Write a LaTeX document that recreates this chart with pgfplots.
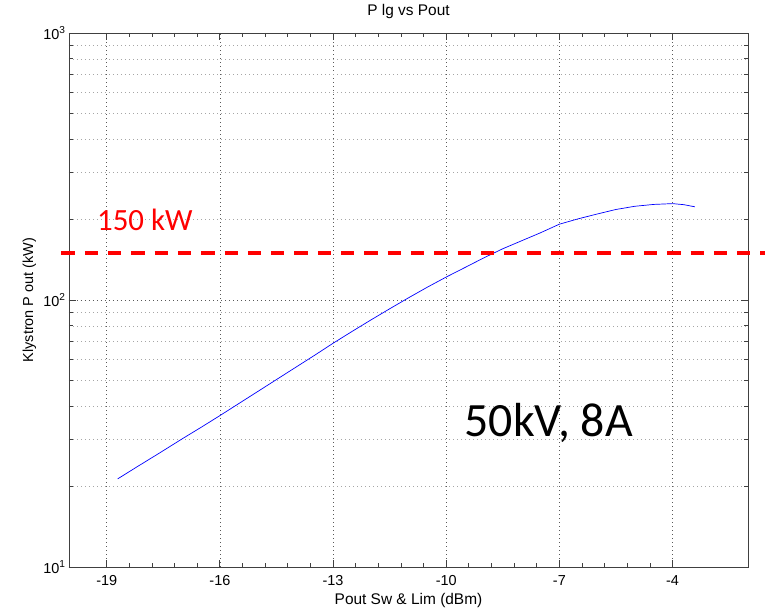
\documentclass[border=0pt]{standalone}
\usepackage{pgfplots}
\pgfplotsset{compat=1.18}
\usepackage{fontspec}
\setmainfont{Liberation Sans}
\newfontfamily\calibri{Carlito}
\begin{document}
\begin{tikzpicture}
\useasboundingbox (-69bp,-42bp) rectangle (696bp,567bp);
\begin{axis}[
  at={(0,0)}, anchor=south west,
  scale only axis, width=679bp, height=534bp,
  xmin=-20, xmax=-2,
  ymode=log, ymin=10, ymax=1000,
  xtick={-19,-16,-13,-10,-7,-4},
  xticklabels={-19,-16,-13,-10,-7,-4},
  minor x tick num=4,
  ytick={10,100,1000},
  yticklabels={10\textsuperscript{1},10\textsuperscript{2},10\textsuperscript{3}},
  xmajorgrids, ymajorgrids, yminorgrids,
  major grid style={dash pattern=on 1bp off 3bp, black!65, line width=0.7bp},
  minor grid style={dash pattern=on 1bp off 3bp, black!35, line width=0.7bp},
  axis line style={black!75, line width=0.8bp},
  every tick/.style={black!75, line width=0.8bp},
  major tick length=7bp, minor tick length=4bp,
  tick align=inside,
  ticklabel style={font=\fontsize{14.5}{16}\selectfont},
  xticklabel style={anchor=base, yshift=-18.7bp},
  title={P lg vs Pout},
  title style={at={(0.5,1)}, anchor=base, yshift=12bp, font=\fontsize{15.5}{18}\selectfont},
  xlabel={Pout Sw \& Lim (dBm)},
  xlabel style={at={(0.5,0)}, anchor=base, yshift=-37.5bp, font=\fontsize{15.5}{18}\selectfont},
  ylabel={Klystron P out (kW)},
  ylabel style={at={(-0.053,0.5)}, anchor=base, font=\fontsize{14.5}{17}\selectfont},
  clip=false,
]
\addplot[blue, line width=0.7bp] coordinates {
(-18.71,21.38) (-18.2,23.71) (-17.6,26.73) (-17.0,30.20) (-16.5,33.34)
(-16.0,36.90) (-15.5,40.93) (-15.0,45.39) (-14.5,50.35) (-14.0,55.85)
(-13.5,61.94) (-13.0,68.87) (-12.5,76.21) (-12.0,84.14) (-11.5,92.68)
(-11.0,101.9) (-10.5,111.7) (-10.0,121.9) (-9.5,132.4) (-9.0,143.9)
(-8.5,155.6) (-8.0,166.7) (-7.5,178.6) (-7.0,192.3) (-6.5,201.4)
(-6.0,209.9) (-5.5,218.3) (-5.0,224.4) (-4.5,228.0) (-4.0,229.6)
(-3.7,227.5) (-3.41,223.4)
};
\addplot[red, line width=4bp, dash pattern=on 13.3bp off 10bp] coordinates {(-20.2,150) (-1.55,150)};
\node[anchor=base west, inner sep=0, text=red, font=\calibri\fontsize{31}{36}\selectfont] at (axis cs:-19.26,182.8) {150 kW};
\node[anchor=base west, inner sep=0, font=\calibri\fontsize{48}{56}\selectfont] at (axis cs:-9.52,30.8) {50kV, 8A};
\end{axis}
\end{tikzpicture}
\end{document}
